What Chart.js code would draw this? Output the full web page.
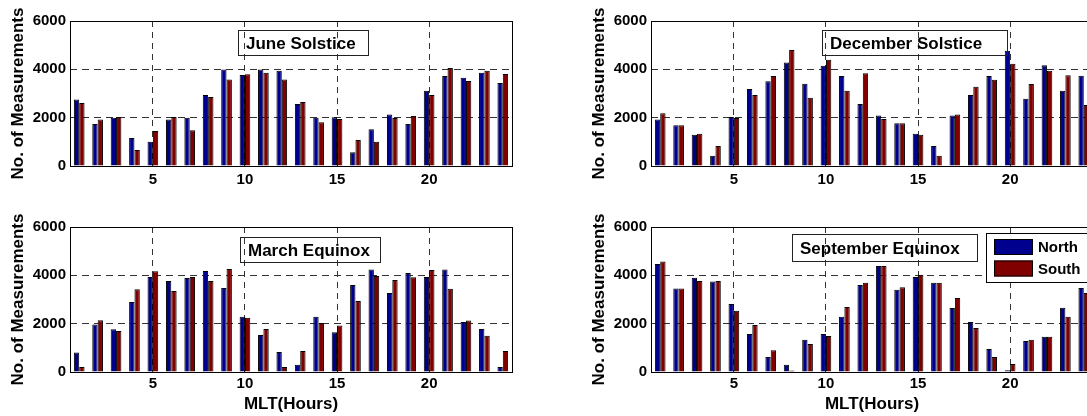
<!DOCTYPE html>
<html>
<head>
<meta charset="utf-8">
<script src="https://cdn.jsdelivr.net/npm/chart.js@4/dist/chart.umd.min.js"></script>
<style>
  html, body { margin: 0; padding: 0; background: #fff; overflow: hidden; }
  body { width: 1087px; height: 416px; position: relative; }
  canvas { position: absolute; }
</style>
</head>
<body>
<canvas id="june" width="530" height="200" style="left:0;top:0"></canvas>
<canvas id="december" width="530" height="200" style="left:581px;top:0"></canvas>
<canvas id="march" width="530" height="216" style="left:0;top:200px"></canvas>
<canvas id="september" width="530" height="216" style="left:581px;top:200px"></canvas>
<script>
const hours = [1, 2, 3, 4, 5, 6, 7, 8, 9, 10, 11, 12, 13, 14, 15, 16, 17, 18, 19, 20, 21, 22, 23, 24];
const seriesNames = ['North', 'South'];

const juneNorth = [2750, 1740, 2000, 1160, 1000, 1920, 2000, 2940, 3990, 3770, 3990, 3940, 2570, 2000, 2020, 570, 1520, 2130, 1740, 3110, 3720, 3650, 3860, 3430];
const juneSouth = [2610, 1920, 2030, 660, 1450, 2030, 1480, 2860, 3580, 3800, 3860, 3580, 2650, 1810, 1950, 1080, 1000, 1990, 2070, 2940, 4060, 3520, 3940, 3810];

const decNorth = [1920, 1690, 1290, 420, 2030, 3190, 3510, 4280, 3400, 4150, 3720, 2570, 2090, 1770, 1330, 830, 2090, 2940, 3720, 4770, 2780, 4170, 3110, 3730];
const decSouth = [2180, 1690, 1330, 830, 1990, 2940, 3720, 4800, 2820, 4400, 3110, 3840, 1950, 1770, 1290, 420, 2130, 3280, 3570, 4230, 3390, 3940, 3760, 2520];

const marNorth = [810, 1970, 1770, 2900, 3930, 3770, 3890, 4180, 3480, 2290, 1530, 830, 300, 2290, 1640, 3600, 4240, 3270, 4100, 3930, 4240, 2070, 1780, 210];
const marSouth = [210, 2140, 1700, 3420, 4170, 3350, 3930, 3770, 4260, 2250, 1780, 210, 870, 2030, 1920, 2940, 3970, 3810, 3920, 4220, 3440, 2130, 1500, 870];

const sepNorth = [4470, 3460, 3900, 3740, 2810, 1570, 620, 300, 1330, 1570, 2290, 3600, 4390, 3400, 3930, 3690, 2650, 2070, 950, 70, 1280, 1460, 2660, 3480];
const sepSouth = [4570, 3460, 3770, 3770, 2530, 1950, 900, 60, 1160, 1490, 2690, 3690, 4390, 3510, 4020, 3690, 3060, 1820, 620, 330, 1330, 1460, 2290, 3270];

const yTicks = [0, 2000, 4000, 6000];
const xTicks = [5, 10, 15, 20];

const FONT = '"Liberation Sans", Arial, Helvetica, sans-serif';
const barColors = ['#00008f', '#800000'];

// frame, season label box and (optionally) legend
const framePlugin = {
    id: 'frame',
    afterDatasetsDraw(chart, args, opts) {
        const { ctx, chartArea: a } = chart;
        ctx.save();
        ctx.strokeStyle = '#000';
        ctx.lineWidth = 1;
        ctx.strokeRect(Math.round(a.left) + 0.5, Math.round(a.top) + 0.5,
            Math.round(a.right - a.left), Math.round(a.bottom - a.top));

        const b = opts.box;
        const bx = Math.round(a.left + b.x), by = Math.round(a.top + b.y);
        ctx.strokeStyle = '#222';
        ctx.strokeRect(bx + 0.5, by + 0.5, b.w, b.h);
        ctx.fillStyle = '#000';
        ctx.font = 'bold 17px ' + FONT;
        ctx.textBaseline = 'middle';
        ctx.fillText(opts.text, bx + 8, by + b.h / 2 + 1.5);

        if (opts.legend) {
            const L = opts.legend;
            const lx = Math.round(a.left + L.x), ly = Math.round(a.top + L.y);
            ctx.fillStyle = '#fff';
            ctx.fillRect(lx, ly, L.w, L.h);
            ctx.strokeStyle = '#000';
            ctx.strokeRect(lx + 0.5, ly + 0.5, L.w, L.h);
            ctx.font = 'bold 15px ' + FONT;
            chart.data.datasets.forEach((ds, i) => {
                const sy = ly + 6 + i * 21.5;
                ctx.fillStyle = ds.backgroundColor;
                ctx.fillRect(lx + 8, sy, 39, 16);
                ctx.strokeStyle = '#000';
                ctx.strokeRect(lx + 8.5, sy + 0.5, 38, 15);
                ctx.fillStyle = '#000';
                ctx.fillText(ds.label, lx + 52, sy + 9);
            });
        }
        ctx.restore();
    }
};

function makePanel(id, north, south, opts) {
    const bottomRow = !!opts.xTitle;
    new Chart(document.getElementById(id), {
        type: 'bar',
        data: {
            labels: hours,
            datasets: [
                { label: seriesNames[0], data: north, backgroundColor: barColors[0] },
                { label: seriesNames[1], data: south, backgroundColor: barColors[1] }
            ]
        },
        options: {
            responsive: false,
            animation: false,
            events: [],
            layout: { padding: { top: bottomRow ? 27 : 21, right: 18, left: 0, bottom: 0 } },
            datasets: {
                bar: {
                    borderColor: '#000',
                    borderWidth: 1,
                    borderSkipped: 'bottom',
                    categoryPercentage: 0.58,
                    barPercentage: 1.0
                }
            },
            plugins: {
                legend: { display: false },
                tooltip: { enabled: false },
                frame: { box: opts.box, text: opts.text, legend: opts.legend }
            },
            scales: {
                x: {
                    type: 'category',
                    afterFit: s => { s.height = bottomRow ? 44 : 34; },
                    grid: { offset: false, color: '#333', lineWidth: 1, drawTicks: false },
                    border: { display: false, dash: [6, 5] },
                    ticks: {
                        autoSkip: false,
                        maxRotation: 0,
                        padding: bottomRow ? 3 : 5,
                        color: '#000',
                        font: { family: FONT, size: 15, weight: 'bold' },
                        callback: function (v) {
                            const h = this.getLabelForValue(v);
                            return xTicks.includes(h) ? String(h) : null;
                        }
                    },
                    title: {
                        display: bottomRow,
                        text: opts.xTitle || '',
                        color: '#000',
                        padding: { top: 0, bottom: 1 },
                        font: { family: FONT, size: 17, weight: 'bold' }
                    }
                },
                y: {
                    min: 0,
                    max: 6000,
                    afterFit: s => { s.width = 70; },
                    afterBuildTicks: s => { s.ticks = yTicks.map(v => ({ value: v })); },
                    grid: {
                        drawTicks: false,
                        lineWidth: 1,
                        color: c => (c.tick && (c.tick.value === 0 || c.tick.value === 6000)) ? 'rgba(0,0,0,0)' : '#333'
                    },
                    border: { display: false, dash: [7, 5] },
                    ticks: {
                        padding: 4,
                        color: '#000',
                        font: { family: FONT, size: 15, weight: 'bold' },
                        callback: v => String(v)
                    },
                    title: {
                        display: true,
                        text: 'No. of Measurements',
                        color: '#000',
                        padding: { top: 8, bottom: 0 },
                        font: { family: FONT, size: 17, weight: 'bold' }
                    }
                }
            }
        },
        plugins: [framePlugin]
    });
}

makePanel('june', juneNorth, juneSouth, {
    text: 'June Solstice',
    box: { x: 168, y: 9, w: 130, h: 25 }
});
makePanel('december', decNorth, decSouth, {
    text: 'December Solstice',
    box: { x: 171, y: 9, w: 185, h: 25 }
});
makePanel('march', marNorth, marSouth, {
    text: 'March Equinox',
    xTitle: 'MLT(Hours)',
    box: { x: 170, y: 10, w: 140, h: 25 }
});
makePanel('september', sepNorth, sepSouth, {
    text: 'September Equinox',
    xTitle: 'MLT(Hours)',
    box: { x: 141, y: 7, w: 185, h: 27 },
    legend: { x: 335, y: 6, w: 101, h: 49 }
});
</script>
</body>
</html>
